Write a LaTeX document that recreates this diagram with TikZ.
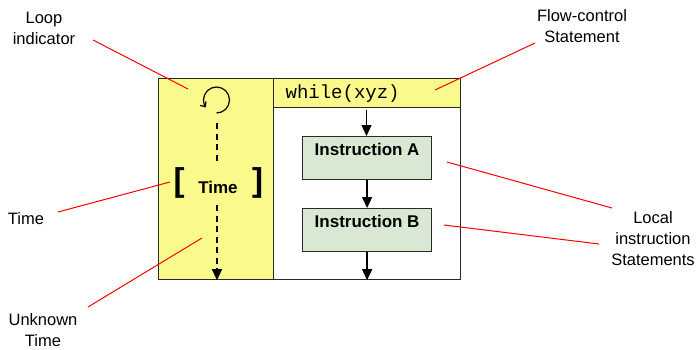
\documentclass[tikz,border=0pt]{standalone}
\usepackage{fontspec}
\setmainfont{Liberation Sans}
\setmonofont{Liberation Mono}
\usetikzlibrary{arrows.meta}
\definecolor{yel}{RGB}{250,250,140}
\definecolor{grn}{RGB}{217,232,211}
\definecolor{edge}{RGB}{40,40,40}
\begin{document}
\begin{tikzpicture}[x=1pt,y=-1pt,
  lbl/.style={align=center,font=\fontsize{16.5}{21}\selectfont,inner sep=0},
  callout/.style={red,line width=1pt},
  panelbox/.style={draw=edge,line width=1.2pt,inner sep=0,anchor=north west},
  instr/.style={draw=edge,fill=grn,line width=1.2pt,inner sep=0,minimum width=129pt,
    text height=19pt,text depth=24pt,anchor=north west,font=\bfseries\fontsize{17}{20}\selectfont},
  flow/.style={line width=1.3pt,-{Triangle[width=10pt,length=11pt]}},
  dashline/.style={line width=1.2pt,dash pattern=on 6pt off 4.5pt}
]
\useasboundingbox (0,0) rectangle (697,349);

% frame
\node (panel) [panelbox,fill=yel,minimum width=115.5pt,minimum height=201pt] at (157.5,78) {};
\node (body) [panelbox,fill=white,minimum width=186.5pt,minimum height=201pt] at (273,78) {};
\node (head) [panelbox,fill=yel,minimum height=29pt,inner xsep=12pt,text width=162.5pt,align=left,
  font=\ttfamily\fontsize{19}{20}\selectfont] at (273,78) {while(xyz)};

% instructions
\node (A) [instr] at (302,136) {Instruction A};
\node (B) [instr] at (302,208) {Instruction B};
\coordinate (hs) at (366.5,110);
\draw[flow] (hs) -- (hs |- A.north);
\draw[flow] (A) -- (B);
\draw[flow] (B.south) -- (B.south |- body.south);

% loop indicator
\coordinate (loop) at (216.5,100);
\draw[line width=1.2pt,-{Straight Barb[length=4pt,width=7pt]}] (loop) ++(90:13) arc (90:-215:13);
\coordinate (d1) at (217,123);
\coordinate (d2) at (217,163);
\draw[dashline] (d1) -- (d2);

% time
\node (lbr) [inner sep=0,font=\bfseries\fontsize{33}{33}\selectfont] at (179,183) {[};
\node (rbr) [inner sep=0,font=\bfseries\fontsize{33}{33}\selectfont] at (257.5,183) {]};
\node (time) [inner sep=0,font=\bfseries\fontsize{17}{20}\selectfont] at (218,187) {Time};
\coordinate (d3) at (217,205);
\draw[dashline,-{Triangle[width=10pt,length=11pt]}] (d3) -- (d3 |- panel.south);

% labels
\node (Lloop) [lbl] at (44,28) {Loop\\indicator};
\node (Ltime) [lbl] at (26,219) {Time};
\node (Lunk) [lbl] at (43,330) {Unknown\\Time};
\node (Lflow) [lbl] at (582,26) {Flow-control\\Statement};
\node (Lloc) [lbl] at (653,239) {Local\\instruction\\Statements};

% callouts
\coordinate (c1a) at (93,40);   \coordinate (c1b) at (188,89);
\coordinate (c2a) at (58,212);  \coordinate (c2b) at (170,182);
\coordinate (c3a) at (88,307);  \coordinate (c3b) at (202,238);
\coordinate (c4a) at (535,43);  \coordinate (c4b) at (435,90);
\coordinate (c5a) at (612,208); \coordinate (c5b) at (447,162);
\coordinate (c6a) at (599,244); \coordinate (c6b) at (444,225);
\draw[callout] (c1a) -- (c1b);
\draw[callout] (c2a) -- (c2b);
\draw[callout] (c3a) -- (c3b);
\draw[callout] (c4a) -- (c4b);
\draw[callout] (c5a) -- (c5b);
\draw[callout] (c6a) -- (c6b);
\end{tikzpicture}
\end{document}
